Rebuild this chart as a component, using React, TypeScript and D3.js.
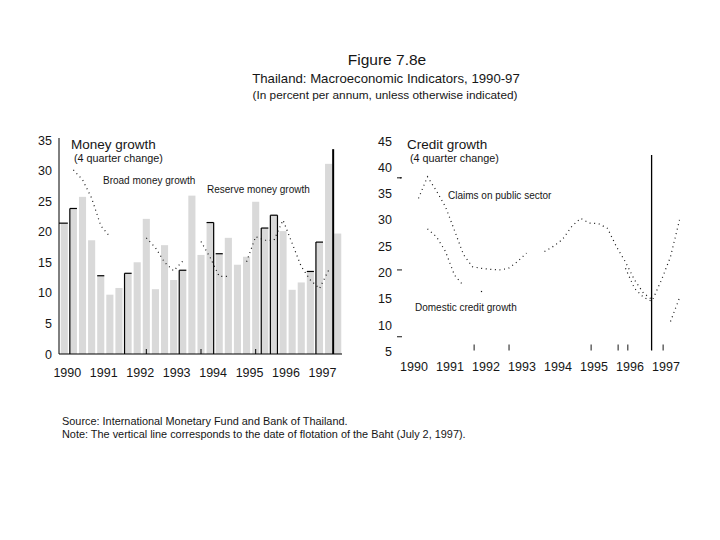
import * as d3 from 'd3'

// Money growth panel, 1990Q1 .. 1997Q3
const moneyQuarters = [1990, 1991, 1992, 1993, 1994, 1995, 1996, 1997]
  .flatMap((y) => ['Q1', 'Q2', 'Q3', 'Q4'].map((q) => `${y}${q}`))
  .slice(0, 31)

const reserveMoney = [
  21.4, 23.8, 25.7, 18.6, 12.8, 9.7, 10.8, 13.2, 15.0, 22.1, 10.6, 17.8, 12.1, 13.7, 25.9, 16.2,
  21.5, 16.4, 19.0, 14.6, 15.9, 24.9, 20.6, 22.7, 20.1, 10.5, 11.7, 13.5, 18.3, 31.1, 19.7,
]

const broadMoney: (number | null)[] = [
  null, 30.1, 28.5, 25.5, 21.0, 19.2, null, null, null, 19.0, 17.4, 15.0, 13.6, 15.2, null, 18.4,
  15.8, 12.7, 12.7, null, 15.1, 19.2, 18.6, 18.6, 21.9, 18.1, 14.3, 12.1, 10.7, 13.7, null,
]

// black outline traces left on some bars in the scan (t = top, l = left, r = right)
const outlineTraces: Record<string, string> = {
  '1990Q1': 't', '1990Q2': 'lt', '1991Q1': 't', '1991Q4': 'lt', '1993Q2': 'lt', '1994Q1': 'tr',
  '1994Q2': 't', '1995Q3': 'lt', '1995Q4': 'ltr', '1996Q4': 't', '1997Q1': 'lt',
}
// short marks standing on the baseline
const moneyBaseTicks = ['1992Q2', '1993Q4', '1995Q2']

const moneyTicks = [0, 5, 10, 15, 20, 25, 30, 35]
const years = [1990, 1991, 1992, 1993, 1994, 1995, 1996, 1997]

// Credit growth panel, 1990Q1 .. 1997Q4
const creditQuarters = years.flatMap((y) => [1, 2, 3, 4].map((q) => ({ year: y, q })))

const claimsPublic: (number | null)[] = [
  38.0, null, 34.1, 38.2,
  35.5, 32.5, 28.0, 23.4,
  21.1, 20.8, 20.6, 20.5,
  20.8, 22.1, 23.7, null,
  24.0, 25.0, 26.3, 28.7,
  30.3, 29.4, 29.3, 28.4,
  24.9, 22.0, 18.6, 16.1,
  14.8, 18.6, 23.0, 30.0,
]

const domesticCredit: (number | null)[] = [
  null, null, null, 28.3,
  26.8, 24.0, 19.5, 17.5,
  null, 16.4, null, null,
  null, null, null, null,
  null, null, null, null,
  null, null, null, null,
  null, 20.8, 17.0, 15.3,
  14.5, null, 10.7, 15.2,
]

const creditTicks = [5, 10, 15, 20, 25, 30, 35, 40, 45]
const creditAxisMarks = [38, 20.5, 7.8]
const creditBaseTicks = [1992.17, 1993.14, 1995.42, 1996.17, 1996.44, 1997.42]

const moneyFlotation = '1997Q3'
const creditFlotation = 1997.1

const FONT = '"Liberation Sans", Arial, Helvetica, sans-serif'
const INK = '#161616'

type Pt = { x: number; y: number | null }

function DottedSeries({ pts }: { pts: Pt[] }) {
  const line = d3.line<Pt>()
    .defined((d) => d.y !== null)
    .x((d) => d.x)
    .y((d) => d.y as number)
  const lone = pts.filter((d, i) =>
    d.y !== null && (i === 0 || pts[i - 1].y === null) && (i === pts.length - 1 || pts[i + 1].y === null))
  return (
    <g>
      <path d={line(pts) ?? ''} fill="none" stroke={INK} strokeWidth={1.2} strokeDasharray="1 3.6" />
      {lone.map((d, i) => <rect key={i} x={d.x - 0.6} y={(d.y as number) - 0.6} width={1.2} height={1.2} fill={INK} />)}
    </g>
  )
}

function MoneyPanel() {
  const x = d3.scaleBand<string>().domain(moneyQuarters).range([60, 342]).paddingInner(0.22).paddingOuter(0.08)
  const y = d3.scaleLinear().domain([0, 35]).range([354, 140])
  const bw = x.bandwidth()

  const pts: Pt[] = moneyQuarters.map((q, i) => ({
    x: (x(q) as number) + bw / 2,
    y: broadMoney[i] === null ? null : y(broadMoney[i] as number),
  }))

  return (
    <g fontFamily={FONT} fill={INK}>
      {moneyQuarters.map((q, i) => (
        <rect key={q} x={x(q)} y={y(reserveMoney[i])} width={bw} height={y(0) - y(reserveMoney[i])} fill="#d9d9d9" />
      ))}
      {moneyQuarters.map((q, i) => {
        const e = outlineTraces[q]
        if (!e) return null
        const x0 = x(q) as number
        const x1 = x0 + bw
        const top = y(reserveMoney[i])
        return (
          <g key={q} stroke="#000" strokeWidth={1.2}>
            {e.includes('t') && <line x1={i === 0 ? 59 : x0} x2={x1} y1={top} y2={top} />}
            {e.includes('l') && <line x1={x0} x2={x0} y1={top} y2={y(0)} />}
            {e.includes('r') && <line x1={x1} x2={x1} y1={top} y2={y(0)} />}
          </g>
        )
      })}
      <DottedSeries pts={pts} />
      <line x1={59} x2={59} y1={y(35) - 2} y2={y(0)} stroke="#000" strokeWidth={1} />
      <line x1={59} x2={342} y1={y(0)} y2={y(0)} stroke="#000" strokeWidth={1.2} />
      {moneyBaseTicks.map((q) => {
        const cx = (x(q) as number) + bw / 2
        return <line key={q} x1={cx} x2={cx} y1={y(0)} y2={y(0) - 5} stroke="#000" strokeWidth={1} />
      })}
      <line
        x1={x(moneyFlotation) as number - 1}
        x2={x(moneyFlotation) as number - 1}
        y1={y(33.5)}
        y2={y(0)}
        stroke="#000"
        strokeWidth={2}
      />
      {moneyTicks.map((t) => (
        <text key={t} x={52} y={y(t) + 4.5} textAnchor="end" fontSize={12.5}>{t}</text>
      ))}
      {years.map((yr) => (
        <text key={yr} x={(x(`${yr}Q1`) as number) + bw / 2 + 3} y={377} textAnchor="middle" fontSize={12.5}>{yr}</text>
      ))}
      <text x={71} y={149} fontSize={13.5}>Money growth</text>
      <text x={74} y={161.5} fontSize={10.8}>(4 quarter change)</text>
      <text x={103} y={184} fontSize={10}>Broad money growth</text>
      <text x={207} y={193} fontSize={10}>Reserve money growth</text>
    </g>
  )
}

function CreditPanel() {
  const x = d3.scaleLinear().domain([1990, 1998]).range([396, 684])
  const y = d3.scaleLinear().domain([5, 45]).range([351.5, 141])
  const tx = (d: { year: number; q: number }) => x(d.year + (d.q - 0.5) / 4)

  const upper: Pt[] = creditQuarters.map((d, i) => ({
    x: tx(d), y: claimsPublic[i] === null ? null : y(claimsPublic[i] as number),
  }))
  const lower: Pt[] = creditQuarters.map((d, i) => ({
    x: tx(d), y: domesticCredit[i] === null ? null : y(domesticCredit[i] as number),
  }))

  return (
    <g fontFamily={FONT} fill={INK}>
      {creditAxisMarks.map((m) => (
        <line key={m} x1={397} x2={402} y1={y(m)} y2={y(m)} stroke={INK} strokeWidth={1} />
      ))}
      {creditBaseTicks.map((t) => (
        <line key={t} x1={x(t)} x2={x(t)} y1={y(5) - 7} y2={y(5) - 1} stroke={INK} strokeWidth={1} />
      ))}
      <DottedSeries pts={upper} />
      <DottedSeries pts={lower} />
      <line x1={x(creditFlotation)} x2={x(creditFlotation)} y1={155} y2={y(5) - 1} stroke="#000" strokeWidth={1.3} />
      {creditTicks.map((t) => (
        <text key={t} x={392} y={y(t) + 4.5} textAnchor="end" fontSize={12.5}>{t}</text>
      ))}
      {years.map((yr) => (
        <text key={yr} x={x(yr + 0.5)} y={371} textAnchor="middle" fontSize={12.5}>{yr}</text>
      ))}
      <text x={407} y={149} fontSize={13.5}>Credit growth</text>
      <text x={410} y={161.5} fontSize={10.8}>(4 quarter change)</text>
      <text x={448} y={199} fontSize={10}>Claims on public sector</text>
      <text x={415} y={311} fontSize={10}>Domestic credit growth</text>
    </g>
  )
}

export default function App() {
  return (
    <svg
      width={720}
      height={540}
      style={{ position: 'absolute', left: 0, top: 0, background: '#fff' }}
    >
      <rect width={720} height={540} fill="#fff" />
      <g fontFamily={FONT} fill={INK} textAnchor="middle">
        <text x={387} y={65} fontSize={15.5}>Figure 7.8e</text>
        <text x={386} y={83} fontSize={13.2}>Thailand: Macroeconomic Indicators, 1990-97</text>
        <text x={385} y={99} fontSize={11.8}>(In percent per annum, unless otherwise indicated)</text>
      </g>
      <MoneyPanel />
      <CreditPanel />
      <g fontFamily={FONT} fill={INK} fontSize={10.9}>
        <text x={62} y={425}>Source: International Monetary Fund and Bank of Thailand.</text>
        <text x={62} y={438}>Note: The vertical line corresponds to the date of flotation of the Baht (July 2, 1997).</text>
      </g>
    </svg>
  )
}
